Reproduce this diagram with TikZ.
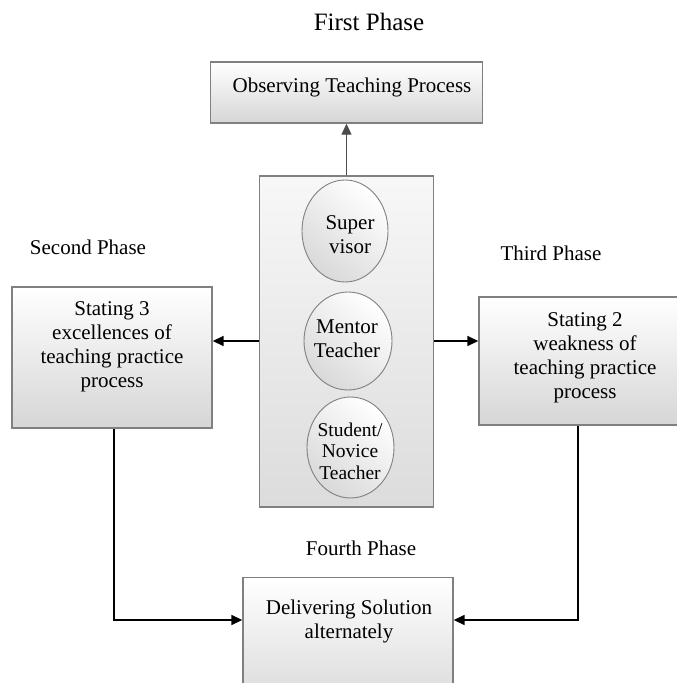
\documentclass[tikz,border=0pt]{standalone}
\usepackage{fontspec}
\setmainfont{Liberation Serif}
\usetikzlibrary{arrows.meta,shapes.geometric}
\definecolor{boxgray}{HTML}{808080}
\definecolor{shadegray}{HTML}{D6D6D6}
\definecolor{ellshade}{HTML}{D9D9D9}
\definecolor{contshade}{HTML}{DCDCDC}
\tikzset{
  box/.style={draw=boxgray, line width=1.4pt, top color=white, bottom color=shadegray, inner sep=0pt},
  ell/.style={ellipse, draw=boxgray, line width=0.9pt, top color=white, bottom color=ellshade, shading angle=-40, inner sep=0pt},
  txt/.style={align=center, font=\fontsize{21}{24}\selectfont, inner sep=0pt},
  smalltxt/.style={align=center, font=\fontsize{19.5}{21.5}\selectfont, inner sep=0pt},
  phase/.style={font=\fontsize{21}{24}\selectfont, inner sep=0pt},
  arr/.style={-{Triangle[length=11pt,width=10pt]}, line width=1.6pt, black},
  conn/.style={line width=1.6pt, black},
}
\begin{document}
\begin{tikzpicture}[x=1pt,y=-1pt]
\clip (0,0) rectangle (677,683);
\fill[white] (0,0) rectangle (677,683);

% phase labels
\node[phase, font=\fontsize{25}{28}\selectfont] (first) at (369,22) {First Phase};
\node[phase] (secondlbl) at (88,247) {Second Phase};
\node[phase] (thirdlbl) at (551,253) {Third Phase};
\node[phase] (fourthlbl) at (361,548) {Fourth Phase};

% top box
\node[box, minimum width=272, minimum height=61] (observe) at (346.5,92.5) {};
\node[txt] (observetext) at (352,87) {Observing Teaching Process};

% container
\node[draw=boxgray, line width=1.4pt, top color=white!97!black, bottom color=contshade, inner sep=0pt,
      minimum width=174, minimum height=331] (container) at (346.5,341.5) {};

% ellipses
\node[ell, minimum width=86, minimum height=102] (supervisor) at (345,231) {};
\node[txt] (supervisortext) at (350,234.5) {Super\\visor};
\node[ell, minimum width=88, minimum height=98] (mentor) at (348,341) {};
\node[txt] (mentortext) at (347,339) {Mentor\\Teacher};
\node[ell, minimum width=87, minimum height=101] (student) at (350.5,447.5) {};
\node[smalltxt] (studenttext) at (350,451) {Student/\\Novice\\Teacher};

% side boxes
\node[box, minimum width=200, minimum height=141] (second) at (112,357.5) {};
\node[txt] (secondtext) at (112,347) {Stating 3\\excellences of\\teaching practice\\process};
\node[box, minimum width=200, minimum height=128] (third) at (579,361) {};
\node[txt] (thirdtext) at (585,358) {Stating 2\\weakness of\\teaching practice\\process};

% bottom box
\node[box, minimum width=210, minimum height=140, anchor=north] (deliver) at (348,577) {};
\node[txt] (delivertext) at (349,621) {Delivering Solution\\alternately};

% connectors
\draw[-{Triangle[length=11pt,width=10pt]}, line width=1.2pt, draw=black!70] (container.north) -- (observe.south);
\draw[arr] (container.west |- mentor) -- (second.east |- mentor);
\draw[arr] (container.east |- mentor) -- (third.west |- mentor);
\coordinate (lvl) at (0,620);
\draw[arr] ([xshift=2pt]second.south) -- ([xshift=2pt]second.south |- lvl) -- (deliver.west |- lvl);
\draw[arr] ([xshift=-1pt]third.south) -- ([xshift=-1pt]third.south |- lvl) -- (deliver.east |- lvl);
\end{tikzpicture}
\end{document}
